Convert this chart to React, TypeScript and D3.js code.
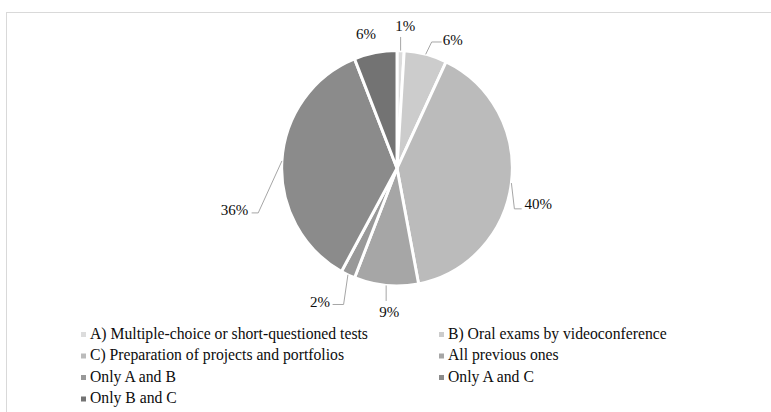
import * as d3 from 'd3';

// slice data, in clockwise order from 12 o'clock
const categories = [
  'A) Multiple-choice or short-questioned tests',
  'B) Oral exams by videoconference',
  'C) Preparation of projects and portfolios',
  'All previous ones',
  'Only A and B',
  'Only A and C',
  'Only B and C',
];
const values = [1, 6, 40, 9, 2, 36, 6];
const labels = ['1%', '6%', '40%', '9%', '2%', '36%', '6%'];
const colors = ['#dcdcdc', '#cccccc', '#bbbbbb', '#a6a6a6', '#999999', '#8b8b8b', '#737373'];

// leader line bends / text offsets relative to the slice's edge point (Excel-style manual placement)
const labelLayout = [
  { line: [[0, -13.7]], text: [4.7, -19.3], anchor: 'middle' },
  { line: [[6, -12.3], [16, -12.3]], text: [17.2, -8.9], anchor: 'start' },
  { line: [[3, 25.8], [10.3, 25.8]], text: [13, 26], anchor: 'start' },
  { line: [[0, 15.5]], text: [3, 31.5], anchor: 'middle' },
  { line: [[-4.3, 29.7], [-15.3, 29.7]], text: [-18, 32], anchor: 'end' },
  { line: [[-23.7, 52], [-30.3, 52]], text: [-33.7, 54.3], anchor: 'end' },
  { line: [], text: [-9.3, -13.3], anchor: 'middle' },
];

const W = 771;
const H = 412;
const cx = 397;
const cy = 168.3;
const r = 117.7;
const sx = 115.3 / 117.7; // pie is a touch narrower than tall in the picture

const font = 'Liberation Serif';
const ink = '#0d0d0d';

export default function App() {
  const pie = d3.pie<number>().value((d) => d).sort(null);
  const arcs = pie(values);
  const arc = d3.arc<d3.PieArcDatum<number>>().innerRadius(0).outerRadius(r);

  const edge = (a: d3.PieArcDatum<number>) => {
    const m = (a.startAngle + a.endAngle) / 2;
    return [cx + Math.sin(m) * r * sx, cy - Math.cos(m) * r];
  };

  const legendCols = [81, 439];
  const legendRows = [334.5, 356, 377.5, 399];

  return (
    <svg width={W} height={H} style={{ position: 'absolute', left: 0, top: 0 }}>
      <rect x={0} y={0} width={W} height={H} fill="#fff" />
      <rect x={6.5} y={12.5} width={W + 20} height={H + 20} fill="none" stroke="#d9d9d9" />

      <g transform={`translate(${cx},${cy}) scale(${sx},1)`}>
        {arcs.map((a, i) => (
          <path key={i} d={arc(a) || ''} fill={colors[i]} stroke="#fff" strokeWidth={3} strokeLinejoin="round" />
        ))}
      </g>

      {arcs.map((a, i) => {
        const [ex, ey] = edge(a);
        const lay = labelLayout[i];
        const pts = [[ex, ey], ...lay.line.map(([dx, dy]) => [ex + dx, ey + dy])];
        return (
          <g key={i}>
            {lay.line.length > 0 && (
              <path d={d3.line()(pts as [number, number][]) || ''} fill="none" stroke="#a6a6a6" strokeWidth={1} />
            )}
            <text
              x={ex + lay.text[0]}
              y={ey + lay.text[1]}
              textAnchor={lay.anchor}
              style={{ fontFamily: font, fontSize: 15 }}
              fill={ink}
            >
              {labels[i]}
            </text>
          </g>
        );
      })}

      {categories.map((c, i) => {
        const x = legendCols[i % 2];
        const y = legendRows[Math.floor(i / 2)];
        return (
          <g key={c}>
            <rect x={x} y={y - 2.5} width={5} height={5} fill={colors[i]} />
            <text x={x + 9} y={y + 4} style={{ fontFamily: font, fontSize: 15.7 }} fill={ink}>
              {c}
            </text>
          </g>
        );
      })}
    </svg>
  );
}
